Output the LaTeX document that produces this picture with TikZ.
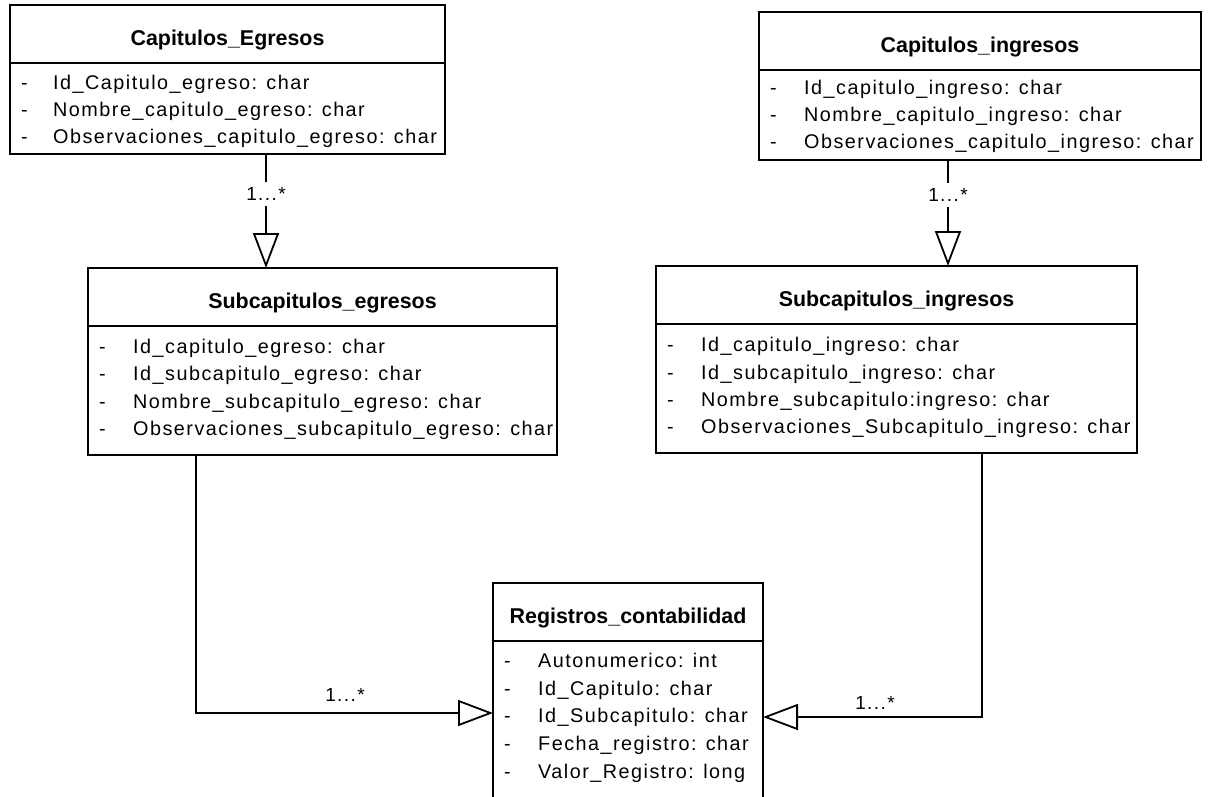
\documentclass[tikz,border=0pt]{standalone}
\usepackage{fontspec}
\setmainfont{Liberation Sans}
\newfontfamily\attrfont{Liberation Sans}[LetterSpace=7.5]
\usetikzlibrary{arrows.meta}

\tikzset{
  classbox/.style={draw, line width=1.8pt, rectangle, inner sep=0pt, outer sep=0pt,
    anchor=north west, fill=white},
  classtitle/.style={anchor=base, inner sep=0pt,
    font=\fontsize{21.4}{24}\selectfont\bfseries},
  attr/.style={anchor=base west, inner sep=0pt, font=\attrfont\fontsize{19.8}{22}\selectfont},
  dashmark/.style={anchor=base west, inner sep=0pt, font=\fontsize{19.8}{22}\selectfont},
  rule/.style={line width=1.8pt},
  gen/.style={line width=1.8pt, line join=miter,
    -{Triangle[open, length=35pt, width=26pt]}},
  mult/.style={inner sep=0pt, font=\attrfont\fontsize{19}{22}\selectfont},
  multgap/.style={mult, fill=white, inner xsep=2pt, inner ysep=5.5pt},
}

% class box: name, left, top, width, height, title
\newcommand\umlclass[6]{%
  \node[classbox, minimum width=#4pt, minimum height=#5pt] (#1) at (#2,#3) {};
  \node[classtitle] (#1-title) at ([yshift=-40pt]#1.north) {#6};
  \draw[rule] ([yshift=-58pt]#1.north west) -- ([yshift=-58pt]#1.north east);
}
% attribute rows: name, text indent, list of baseline-offset/text
\newcommand\umlattrs[3]{%
  \foreach \dy/\txt [count=\k] in {#3} {
    \node[dashmark] (#1-d\k) at ([xshift=11pt, yshift=-\dy*1pt]#1.north west) {-};
    \node[attr] (#1-a\k) at ([xshift=#2pt, yshift=-\dy*1pt]#1.north west) {\txt};
  }%
}

\begin{document}
\begin{tikzpicture}[x=1pt, y=-1pt]
\path[use as bounding box] (0,0) rectangle (1210,796);
\clip (0,0) rectangle (1210,796);

% classes
\umlclass{ce}{10}{5}{435}{149}{Capitulos\_Egresos}
\umlattrs{ce}{43}{84.5/Id\_Capitulo\_egreso: char,
  111.7/Nombre\_capitulo\_egreso: char,
  138.9/Observaciones\_capitulo\_egreso: char}

\umlclass{ci}{759}{12}{442}{148}{Capitulos\_ingresos}
\umlattrs{ci}{45}{82.5/Id\_capitulo\_ingreso: char,
  109.2/Nombre\_capitulo\_ingreso: char,
  136/Observaciones\_capitulo\_ingreso: char}

\umlclass{se}{88}{268}{469}{187}{Subcapitulos\_egresos}
\umlattrs{se}{45}{85.4/Id\_capitulo\_egreso: char,
  112.8/Id\_subcapitulo\_egreso: char,
  140.2/Nombre\_subcapitulo\_egreso: char,
  167.6/Observaciones\_subcapitulo\_egreso: char}

\umlclass{si}{656}{266}{481}{187}{Subcapitulos\_ingresos}
\umlattrs{si}{45}{85.7/Id\_capitulo\_ingreso: char,
  113/Id\_subcapitulo\_ingreso: char,
  140.5/Nombre\_subcapitulo:ingreso: char,
  167.5/Observaciones\_Subcapitulo\_ingreso: char}

\umlclass{rc}{493}{583}{270}{240}{Registros\_contabilidad}
\umlattrs{rc}{45}{84.3/Autonumerico: int,
  112/Id\_Capitulo: char,
  139.7/Id\_Subcapitulo: char,
  167.5/Fecha\_registro: char,
  195.3/Valor\_Registro: long}

% generalisations
\draw[gen] ([xshift=38.5pt]ce.south) -- ([xshift=38.5pt]ce.south |- se.north);
\node[multgap] (m1) at (266,194) {1...*};

\draw[gen] ([xshift=-32pt]ci.south) -- ([xshift=-32pt]ci.south |- si.north);
\node[multgap] (m2) at (948,195) {1...*};

\draw[gen] ([xshift=-126.5pt]se.south) |- ([yshift=-130pt]rc.north west);
\node[mult, anchor=base] (m3) at (345,701.7) {1...*};

\draw[gen] ([xshift=85.5pt]si.south) |- ([yshift=-134pt]rc.north east);
\node[mult, anchor=base] (m4) at (875,709) {1...*};
\end{tikzpicture}
\end{document}
